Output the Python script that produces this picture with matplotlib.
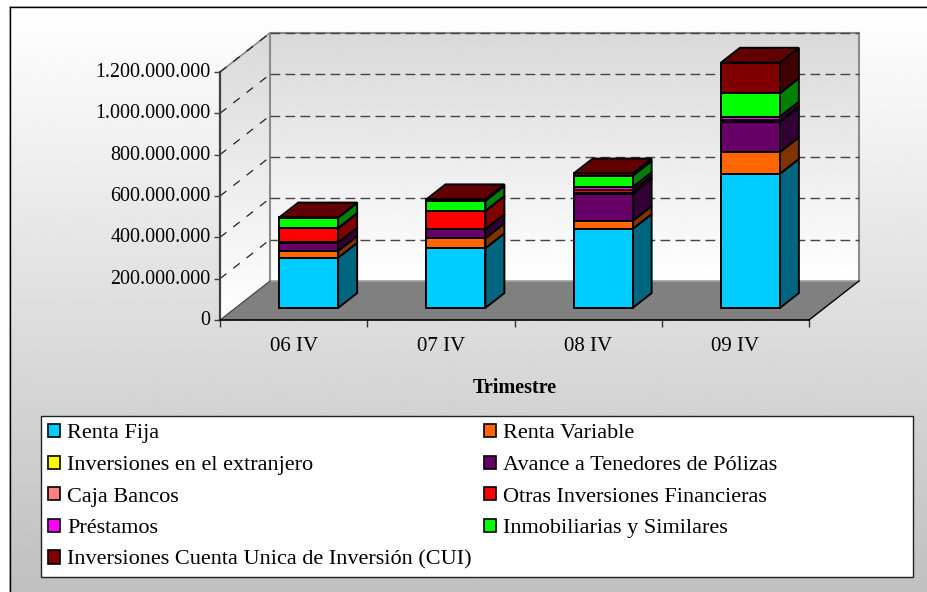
import numpy as np
import matplotlib
matplotlib.use("Agg")
import matplotlib.pyplot as plt
from matplotlib.patches import Polygon, Rectangle
from matplotlib.transforms import ScaledTranslation

plt.rcParams['font.family'] = ['Liberation Serif', 'DejaVu Serif']

categories = ['06 IV', '07 IV', '08 IV', '09 IV']
series_names = ['Renta Fija', 'Renta Variable', 'Inversiones en el extranjero',
                'Avance a Tenedores de Pólizas', 'Caja Bancos',
                'Otras Inversiones Financieras', 'Préstamos',
                'Inmobiliarias y Similares',
                'Inversiones Cuenta Unica de Inversión (CUI)']
renta_fija = [243e6, 289e6, 382e6, 649e6]
renta_variable = [33e6, 48e6, 39e6, 105e6]
extranjero = [0, 0, 0, 0]
avance = [40e6, 44e6, 131e6, 145e6]
caja = [1e6, 1e6, 3e6, 3e6]
otras = [69e6, 87e6, 14e6, 7e6]
prestamos = [1e6, 1e6, 16e6, 17e6]
inmobiliarias = [50e6, 48e6, 54e6, 113e6]
cui = [1e6, 8e6, 12e6, 148e6]
series = [renta_fija, renta_variable, extranjero, avance, caja, otras,
          prestamos, inmobiliarias, cui]
front_colors = ['#00CCFF', '#FF6600', '#FFFF00', '#660066', '#FF8080',
                '#FF0000', '#FF00FF', '#00FF00', '#800000']
side_colors = ['#006680', '#803300', '#808000', '#330033', '#804040',
               '#800000', '#800080', '#008000', '#400000']
top_color = '#600000'
yticks = [0, 200e6, 400e6, 600e6, 800e6, 1000e6, 1200e6]
ytick_labels = ['0', '200.000.000', '400.000.000', '600.000.000', '800.000.000',
                '1.000.000.000', '1.200.000.000']

W, H = 927, 592
L, R, T, B = 220, 809, 72, 320   # front plane of the plot in pixels
DX, DY = 50, 39                  # depth offset of the back wall in pixels
fig = plt.figure(figsize=(W / 100, H / 100), dpi=100)

# figure background with gradient
bg = fig.add_axes([0, 0, 1, 1], zorder=0)
bg.set_xlim(0, W); bg.set_ylim(H, 0); bg.axis('off')
def vgrad(ax, poly, y0, y1, c0, c1, z):
    g = np.linspace(c0, c1, 256).reshape(-1, 1)
    xs = [p[0] for p in poly]
    im = ax.imshow(g, cmap='gray', vmin=0, vmax=1, aspect='auto', zorder=z,
                   extent=(min(xs), max(xs), y1, y0), interpolation='bilinear')
    clip = Polygon(poly, closed=True, transform=ax.transData, fc='none', ec='none')
    ax.add_patch(clip)
    im.set_clip_path(clip)
frame = [(10, 7), (W + 2, 7), (W + 2, H + 2), (10, H + 2)]
vgrad(bg, frame, 7, H + 2, 1.0, 0.75, 1)
bg.plot([10, 10, W + 2], [H + 2, 7, 7], color='black', lw=1.0, zorder=2, clip_on=False)
bg.plot([9, 9, W + 2], [H + 2, 6, 6], color='#999999', lw=0.7, zorder=2, clip_on=False)
bg.set_xlim(0, W); bg.set_ylim(H, 0)

# walls
vgrad(bg, [(R + DX, T - DY), (L + DX, T - DY), (L + DX, B - DY), (R + DX, B - DY)],
      T - DY, B - DY, 0.85, 1.0, 3)
vgrad(bg, [(L, T), (L + DX, T - DY), (L + DX, B - DY), (L, B)],
      T - DY, B, 0.85, 1.0, 3)
bg.set_xlim(0, W); bg.set_ylim(H, 0)

ax = fig.add_axes([L / W, 1 - B / H, (R - L) / W, (B - T) / H], zorder=2)
ax.patch.set_alpha(0)
ax.set_xlim(0, len(categories))
ax.set_ylim(0, yticks[-1])
cat_px = (R - L) / len(categories)
val_px = (B - T) / yticks[-1]

def proj(x, v, d):
    """Category/value/depth (0-1) to data coords of the front plane."""
    return (x + d * DX / cat_px, v + d * DY / val_px)

def face(pts, fc, ec='black', lw=1.4, z=5):
    ax.add_patch(Polygon([proj(*p) for p in pts], closed=True, fc=fc, ec=ec, lw=lw,
                         zorder=z, clip_on=False, joinstyle='miter'))

n = len(categories)
top = yticks[-1]
# floor
face([(0, 0, 0), (n, 0, 0), (n, 0, 1), (0, 0, 1)], '#808080', ec='none', lw=0, z=2)
wall = '#8c8c8c'
def seg(a, b, **k):
    pa, pb = proj(*a), proj(*b)
    k.setdefault('clip_on', False)
    ax.plot([pa[0], pb[0]], [pa[1], pb[1]], **k)
seg((0, top, 0), (0, top, 1), color=wall, lw=1.2, zorder=3)
seg((0, top, 1), (n, top, 1), color=wall, lw=1.5, zorder=3)
seg((n, top, 1), (n, 0, 1), color=wall, lw=1.5, zorder=3)
seg((0, top, 1), (0, 0, 1), color=wall, lw=1.5, zorder=3)
seg((0, 0, 1), (n, 0, 1), color='#a0a0a0', lw=1.2, zorder=3)
seg((n, 0, 0), (n, 0, 1), color='black', lw=1.0, zorder=3)
seg((0, 0, 0), (0, 0, 1), color='#404040', lw=0.8, zorder=3)

# gridlines
for v in yticks[1:]:
    seg((0, v, 0), (0, v, 1), color='#222222', lw=0.9, ls=(0, (6.5, 7)), zorder=3)
    seg((0, v, 1), (n, v, 1), color='#444444', lw=1.0, ls=(0, (7, 3.8)), zorder=3)

# bars
BW, D0, D1 = 0.4, 0.31, 0.69
for i in range(n):
    x0, x1 = i + 0.5 - BW / 2 - 0.003, i + 0.5 + BW / 2 - 0.003
    b = 0.0
    vals = [s[i] for s in series]
    for k, h in enumerate(vals):
        if h <= 0:
            continue
        t = b + h
        face([(x1, b, D0), (x1, b, D1), (x1, t, D1), (x1, t, D0)], side_colors[k], z=6)
        face([(x0, b, D0), (x1, b, D0), (x1, t, D0), (x0, t, D0)], front_colors[k], z=6)
        b = t
    face([(x0, b, D0), (x1, b, D0), (x1, b, D1), (x0, b, D1)], top_color, z=6)

# axes styling
for s in ('top', 'right'):
    ax.spines[s].set_visible(False)
ax.spines['left'].set_color('#404040'); ax.spines['left'].set_linewidth(1.6)
ax.spines['bottom'].set_color('black'); ax.spines['bottom'].set_linewidth(1.2)
ax.spines['left'].set_zorder(8); ax.spines['bottom'].set_zorder(8)
ax.set_yticks(yticks, ytick_labels, fontsize=14.4)
ax.tick_params(axis='y', length=4.3, width=1, color='#404040', pad=2.5)
up = ScaledTranslation(0, 2 / 100, fig.dpi_scale_trans)
for lab in ax.get_yticklabels():
    lab.set_transform(lab.get_transform() + up)
ax.set_xticks(np.arange(n) + 0.5, categories, fontsize=15)
ax.tick_params(axis='x', which='major', length=0, pad=12)
ax.set_xticks(np.arange(n + 1), minor=True)
ax.tick_params(axis='x', which='minor', length=5, width=1, color='#333333')
fig.text(515 / W, 1 - 388 / H, 'Trimestre', ha='center', va='center',
         fontsize=14.5, fontweight='bold')

# legend
fig.add_artist(Rectangle((41 / W, 1 - 577 / H), (913 - 41) / W, (577 - 416) / H,
                         transform=fig.transFigure, fc='white', ec='#222222', lw=1.0, zorder=3))
col_order = [0, 2, 4, 6, 8, 1, 3, 5, 7]
handles = [Rectangle((0, 0), 1, 1, fc=front_colors[i], ec='black', lw=1.2) for i in col_order]
labels = [series_names[i] for i in col_order]
fs = 16.0
px = fs * 100 / 72
leg = fig.legend(handles, labels, ncols=2, loc='upper left', frameon=False,
                 bbox_to_anchor=(48 / W, 1 - 424 / H), bbox_transform=fig.transFigure,
                 fontsize=fs, borderpad=0, borderaxespad=0,
                 handlelength=12 / px, handleheight=12 / px, handletextpad=7 / px,
                 labelspacing=12.1 / px, columnspacing=12 / px)
leg.set_zorder(4)

fig.savefig('out.png', dpi=100)
